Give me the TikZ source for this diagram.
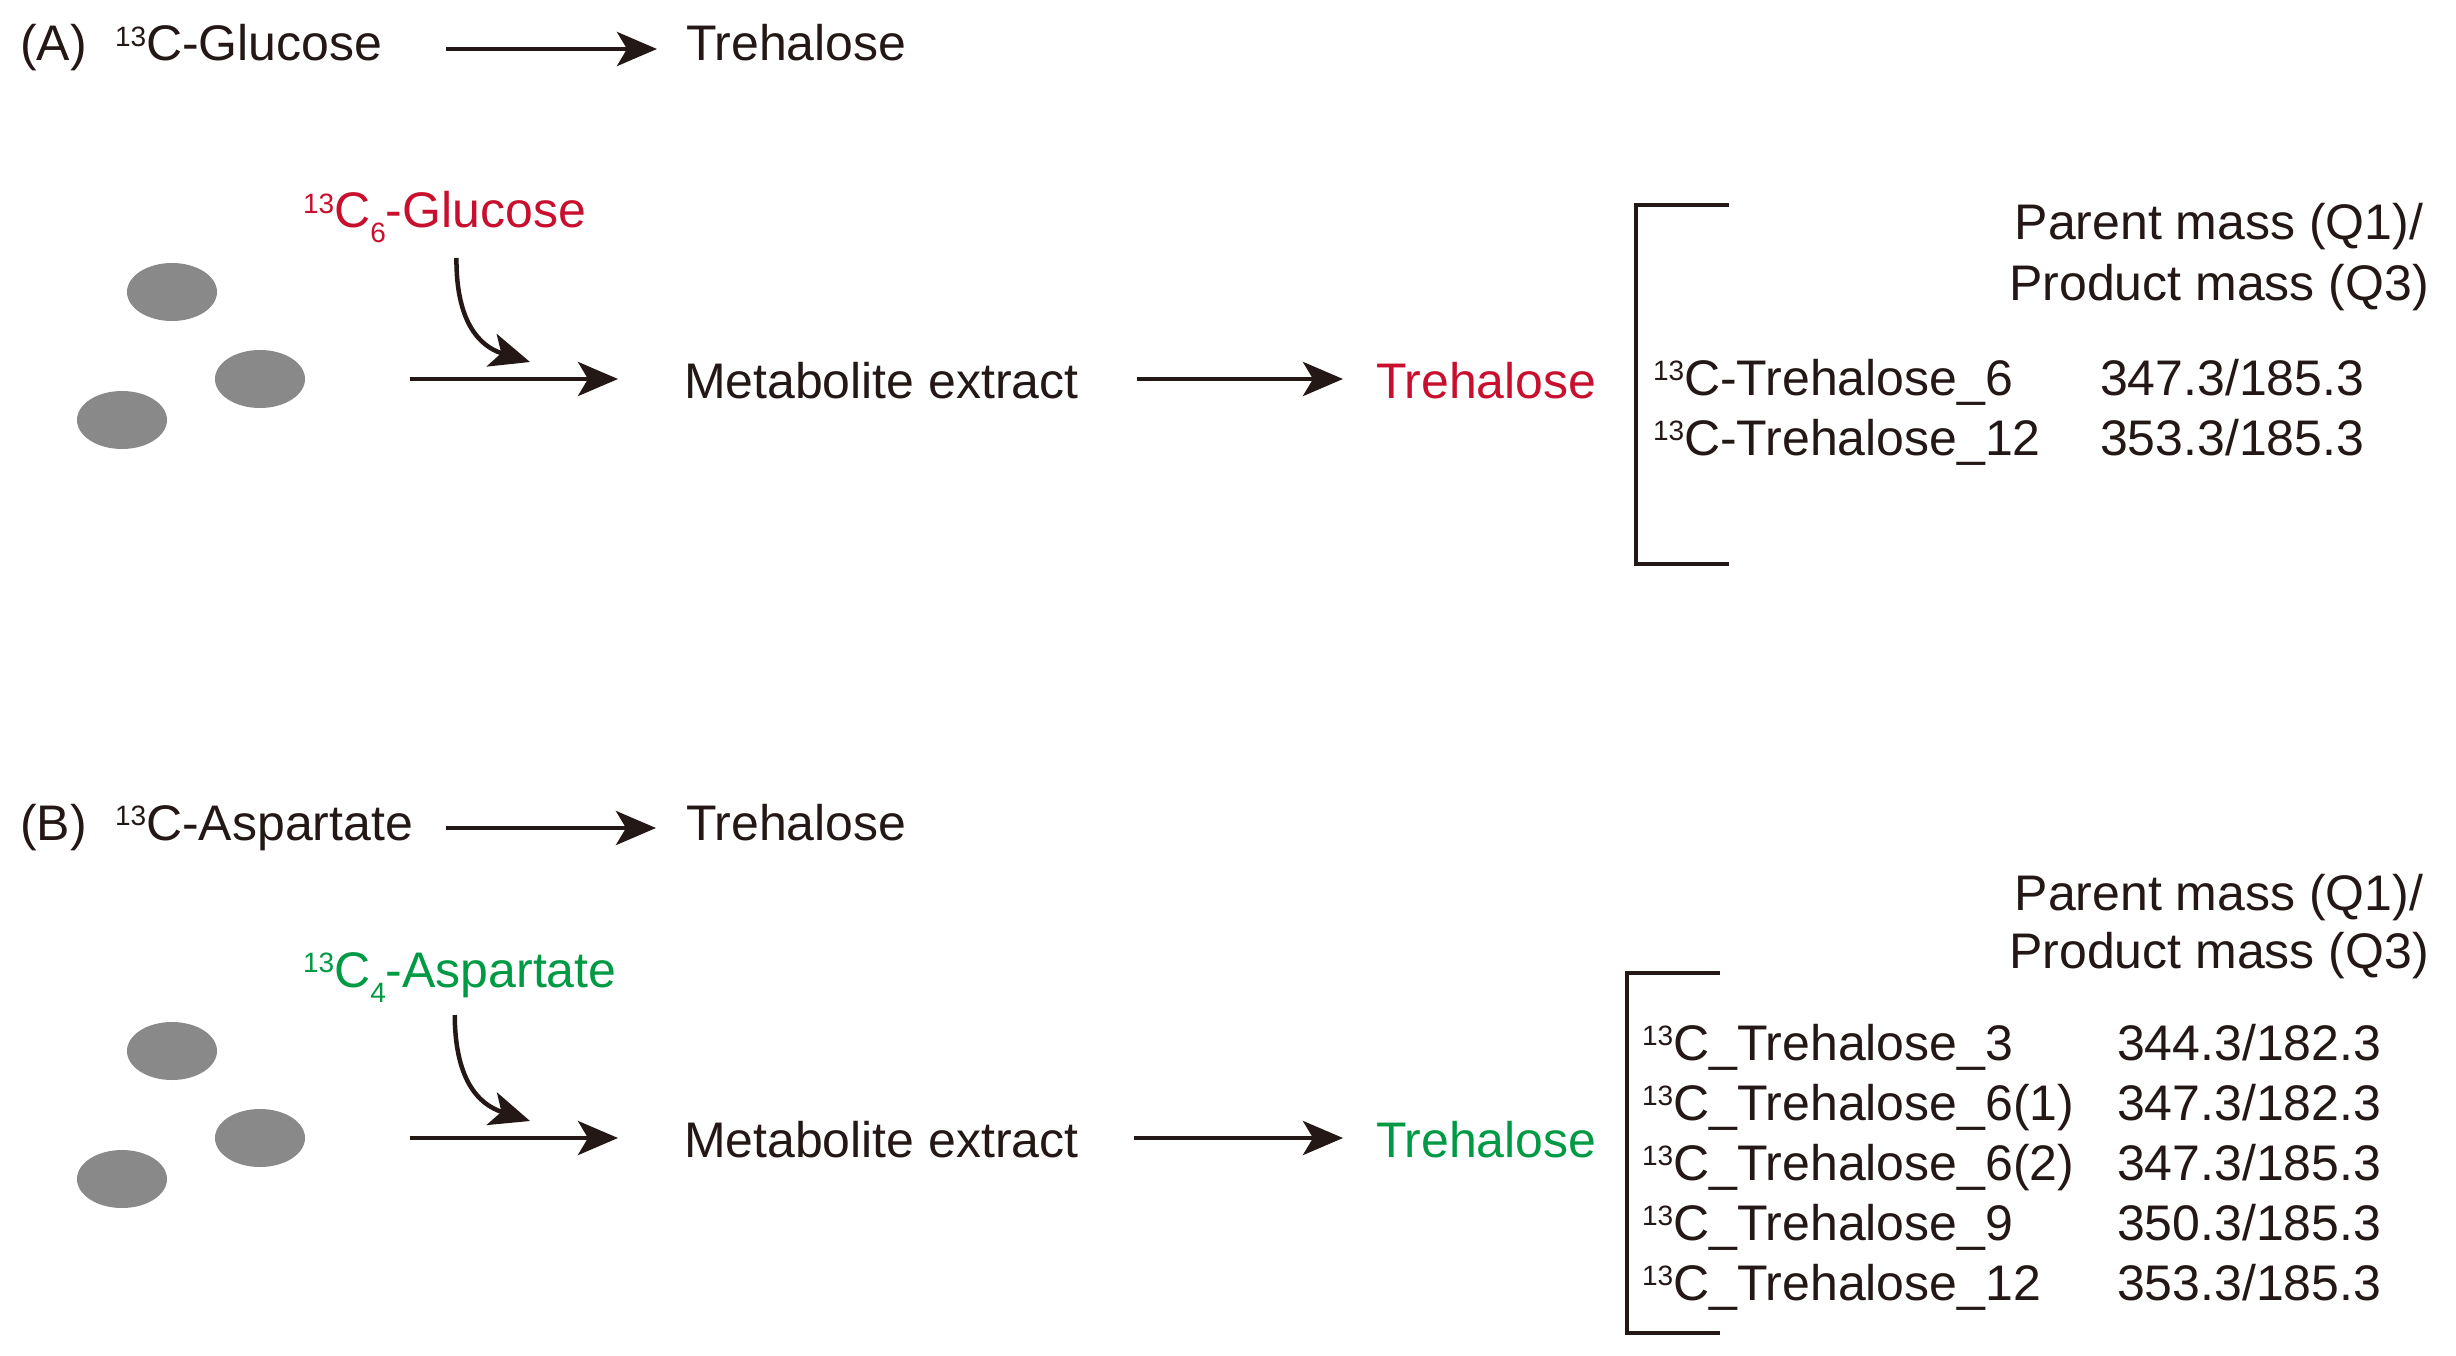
\documentclass[tikz,border=0pt]{standalone}
\usepackage{fontspec}
\setmainfont{Liberation Sans}
\usetikzlibrary{arrows.meta,shapes.geometric}
\definecolor{ink}{HTML}{231815}
\definecolor{redc}{HTML}{C8102E}
\definecolor{greenc}{HTML}{009944}
\definecolor{cellgray}{HTML}{898989}
\newcommand{\upiso}[1]{\raisebox{14.5pt}{\fontsize{28}{28}\selectfont #1}}
\newcommand{\lowiso}[1]{\raisebox{-15pt}{\fontsize{28}{28}\selectfont #1}}
\tikzset{
  txt/.style={inner sep=0pt, outer sep=0pt, text=ink, font=\fontsize{50}{58}\selectfont, anchor=base west},
  toprow/.style={txt, text height=36pt, text depth=12pt},
  midrow/.style={txt, text height=38pt, text depth=0pt},
  arr/.style={draw=ink, line width=4.5pt, -{Stealth[length=40pt,width=34pt,inset=10pt]}},
  cell/.style={ellipse, fill=cellgray, minimum width=90pt, minimum height=58pt, inner sep=0pt},
  brk/.style={draw=ink, line width=3.8pt},
}
\begin{document}
\begin{tikzpicture}[x=1pt,y=-1pt]
\fill[white] (0,0) rectangle (2456,1356);
\useasboundingbox (0,0) rectangle (2456,1356);

% ---------------- Panel A ----------------
\node[toprow] (labA) at (20,61) {(A)};
\node[toprow] (glcA) at (115,61) {\upiso{13}C-Glucose};
\node[toprow] (treA1) at (686,61) {Trehalose};
\draw[arr, shorten <=64pt, shorten >=29pt] (glcA.east) -- (treA1.west);

\node[txt, text=redc, text depth=30pt] (glc6A) at (303,228) {\upiso{13}C\lowiso{6}-Glucose};
\node[cell] (cA1) at (172,292) {};
\node[cell] (cA2) at (260,379) {};
\node[cell] (cA3) at (122,420) {};
\node[midrow] (metA) at (684,398) {Metabolite extract};
\node[midrow, text=redc] (treA2) at (1376,398) {Trehalose};
\coordinate (tipA) at (530,362);
\draw[arr] ([xshift=12pt]glc6A.south) .. controls (456,320) and (478,346) .. (tipA);
\draw[arr, shorten <=105pt, shorten >=66pt] (cA2.east) -- (metA.west);
\draw[arr, shorten <=58pt, shorten >=33pt] (metA.east) -- (treA2.west);

\draw[brk] (1729,205) -- (1636,205) -- (1636,564) -- (1729,564);
\node[txt, anchor=base] (pmA1) at (2219,240) {Parent mass (Q1)/};
\node[txt, anchor=base] (pmA2) at (2219,300) {Product mass (Q3)};
\node[txt] (rA1) at (1653,395) {\upiso{13}C-Trehalose\_6};
\node[txt] (vA1) at (2100,395) {347.3/185.3};
\node[txt] (rA2) at (1653,455) {\upiso{13}C-Trehalose\_12};
\node[txt] (vA2) at (2100,455) {353.3/185.3};

% ---------------- Panel B ----------------
\node[toprow] (labB) at (20,840) {(B)};
\node[toprow] (aspB) at (115,840) {\upiso{13}C-Aspartate};
\node[toprow] (treB1) at (686,840) {Trehalose};
\draw[arr, shorten <=33pt, shorten >=30pt] (aspB.east) -- (treB1.west);

\node[txt, text=greenc, text depth=28pt] (asp4B) at (303,987) {\upiso{13}C\lowiso{4}-Aspartate};
\node[cell] (cB1) at (172,1051) {};
\node[cell] (cB2) at (260,1138) {};
\node[cell] (cB3) at (122,1179) {};
\node[midrow] (metB) at (684,1157) {Metabolite extract};
\node[midrow, text=greenc] (treB2) at (1376,1157) {Trehalose};
\coordinate (tipB) at (530,1121);
\draw[arr] ([xshift=-5pt]asp4B.south) .. controls (455,1078) and (477,1104) .. (tipB);
\draw[arr, shorten <=105pt, shorten >=66pt] (cB2.east) -- (metB.west);
\draw[arr, shorten <=55pt, shorten >=33pt] (metB.east) -- (treB2.west);

\draw[brk] (1720,973) -- (1627,973) -- (1627,1333) -- (1720,1333);
\node[txt, anchor=base] (pmB1) at (2219,910) {Parent mass (Q1)/};
\node[txt, anchor=base] (pmB2) at (2219,968) {Product mass (Q3)};
\node[txt] (rB1) at (1642,1060) {\upiso{13}C\_Trehalose\_3};
\node[txt] (vB1) at (2117,1060) {344.3/182.3};
\node[txt] (rB2) at (1642,1120) {\upiso{13}C\_Trehalose\_6(1)};
\node[txt] (vB2) at (2117,1120) {347.3/182.3};
\node[txt] (rB3) at (1642,1180) {\upiso{13}C\_Trehalose\_6(2)};
\node[txt] (vB3) at (2117,1180) {347.3/185.3};
\node[txt] (rB4) at (1642,1240) {\upiso{13}C\_Trehalose\_9};
\node[txt] (vB4) at (2117,1240) {350.3/185.3};
\node[txt] (rB5) at (1642,1300) {\upiso{13}C\_Trehalose\_12};
\node[txt] (vB5) at (2117,1300) {353.3/185.3};
\end{tikzpicture}
\end{document}
